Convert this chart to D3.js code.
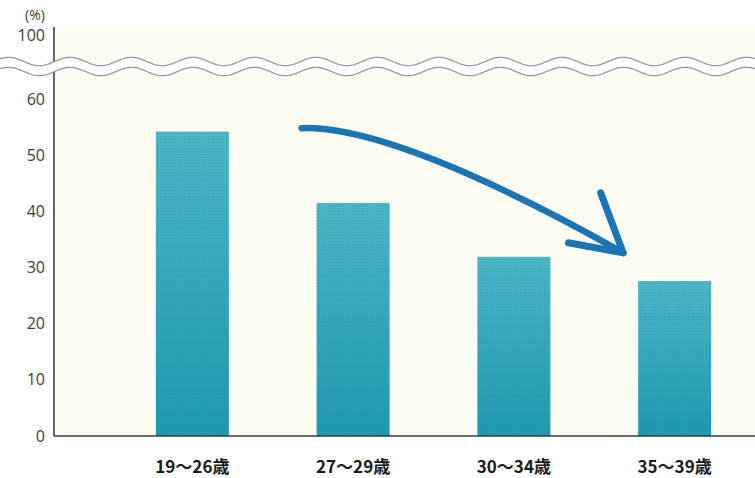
<!DOCTYPE html>
<html>
<head>
<meta charset="utf-8">
<script src="https://cdn.jsdelivr.net/npm/d3@7"></script>
<style>
  html, body { margin: 0; padding: 0; background: #ffffff; }
  svg { display: block; }
</style>
</head>
<body>
<svg id="chart" width="755" height="478"></svg>
<script>
// Age groups and their percentages
const categories = ["19～26歳", "27～29歳", "30～34歳", "35～39歳"];
const values = [54.2, 41.5, 31.9, 27.6];
// Y tick labels (axis is broken between 60 and 100)
const yTicks = [0, 10, 20, 30, 40, 50, 60, 100];
const yUnit = "(%)";

const W = 755, H = 478;
const plotLeft = 54, plotBottom = 436, plotTop = 25;

const svg = d3.select("#chart");
const defs = svg.append("defs");

// piecewise scale: linear 0–60, compressed above the break
const y = d3.scaleLinear().domain([0, 60, 100]).range([plotBottom, 99, 35]);
const x = d3.scaleBand().domain(categories).range([112, W])
  .paddingInner(0.546).paddingOuter(0.273);

// plot background
svg.append("rect").attr("x", plotLeft).attr("y", plotTop)
  .attr("width", W - plotLeft).attr("height", plotBottom - plotTop)
  .attr("fill", "#fdfcf3");

// bar gradient + halftone dots
const grad = defs.append("linearGradient").attr("id", "barGrad")
  .attr("x1", 0).attr("y1", 0).attr("x2", 0).attr("y2", 1);
grad.append("stop").attr("offset", "0%").attr("stop-color", "#4cb7c7");
grad.append("stop").attr("offset", "100%").attr("stop-color", "#1f9ab0");
const dots = defs.append("pattern").attr("id", "dots")
  .attr("width", 3).attr("height", 3).attr("patternUnits", "userSpaceOnUse");
dots.append("circle").attr("cx", 1.5).attr("cy", 1.5).attr("r", 0.7)
  .attr("fill", "#0d6f85").attr("opacity", 0.28);

const bars = svg.append("g");
bars.selectAll("rect.bar").data(values).join("rect")
  .attr("class", "bar")
  .attr("x", (d, i) => x(categories[i]))
  .attr("y", d => y(d))
  .attr("width", x.bandwidth())
  .attr("height", d => y(0) - y(d))
  .attr("fill", "url(#barGrad)");
bars.selectAll("rect.tex").data(values).join("rect")
  .attr("class", "tex")
  .attr("x", (d, i) => x(categories[i]))
  .attr("y", d => y(d))
  .attr("width", x.bandwidth())
  .attr("height", d => y(0) - y(d))
  .attr("fill", "url(#dots)");

// y axis line
svg.append("line").attr("x1", plotLeft).attr("x2", plotLeft)
  .attr("y1", 27).attr("y2", plotBottom)
  .attr("stroke", "#333").attr("stroke-width", 1.5);

// y tick labels
const yAxis = d3.axisLeft(y).tickValues(yTicks).tickSize(0).tickPadding(9);
const ga = svg.append("g").attr("transform", `translate(${plotLeft},0)`).call(yAxis);
ga.attr("font-size", null).attr("font-family", null);
ga.select(".domain").remove();
ga.selectAll("text")
  .style("font-family", "'Open Sans', 'Noto Sans', sans-serif")
  .style("font-size", "16px").attr("fill", "#3c3c3c");

svg.append("text").attr("x", 35).attr("y", 20)
  .attr("text-anchor", "middle")
  .style("font-family", "'Open Sans', 'Noto Sans', sans-serif")
  .style("font-size", "14px").attr("fill", "#3c3c3c").text(yUnit);

// axis break: white wavy band across the chart
const period = 61.5, amp = 4.2, phase = 70;
const waveTop = d3.range(0, W + 1, 1).map(px => [px, 61.5 - amp * Math.cos(2 * Math.PI * (px - phase) / period)]);
const waveBot = waveTop.map(([px, py]) => [px, py + 10]);
const line = d3.line();
svg.append("path")
  .attr("d", line(waveTop.concat(waveBot.slice().reverse())) + "Z")
  .attr("fill", "#ffffff");
[waveTop, waveBot].forEach(pts => {
  svg.append("path").attr("d", line(pts))
    .attr("fill", "none").attr("stroke", "#9a9a9a").attr("stroke-width", 1.3);
});

// x axis line
svg.append("line").attr("x1", plotLeft).attr("x2", W)
  .attr("y1", plotBottom).attr("y2", plotBottom)
  .attr("stroke", "#3a3a3a").attr("stroke-width", 1.6);

// category labels
const xAxis = d3.axisBottom(x).tickSize(0).tickPadding(0);
const gx = svg.append("g").attr("transform", `translate(0,${plotBottom})`).call(xAxis);
gx.attr("font-size", null).attr("font-family", null);
gx.select(".domain").remove();
gx.selectAll("text")
  .attr("dy", 0).attr("y", 37)
  .style("font-family", "'Noto Sans CJK JP', sans-serif")
  .style("font-weight", 700)
  .style("font-size", "17px").attr("fill", "#1a1a1a");

// downward-trend arrow, positioned along the band scale
const step = x.step();
const cx0 = x(categories[0]) + x.bandwidth() / 2;
const at = (idx, v) => [cx0 + idx * step, y(v)];
const p0 = at(0.68, 54.8), c1 = at(1.23, 55.4), c2 = at(2.29, 39.0), p1 = at(2.68, 32.6);
const arrowColor = "#1b74b3";
const path = d3.path();
path.moveTo(...p0);
path.bezierCurveTo(...c1, ...c2, ...p1);
svg.append("path").attr("d", path.toString())
  .attr("fill", "none").attr("stroke", arrowColor)
  .attr("stroke-width", 6.5).attr("stroke-linecap", "round");
const h1 = at(2.54, 43.3), h2 = at(2.34, 34.4);
const head = d3.path();
head.moveTo(...h1); head.lineTo(...p1); head.lineTo(...h2);
svg.append("path").attr("d", head.toString())
  .attr("fill", "none").attr("stroke", arrowColor)
  .attr("stroke-width", 7).attr("stroke-linecap", "round").attr("stroke-linejoin", "round");
</script>
</body>
</html>
